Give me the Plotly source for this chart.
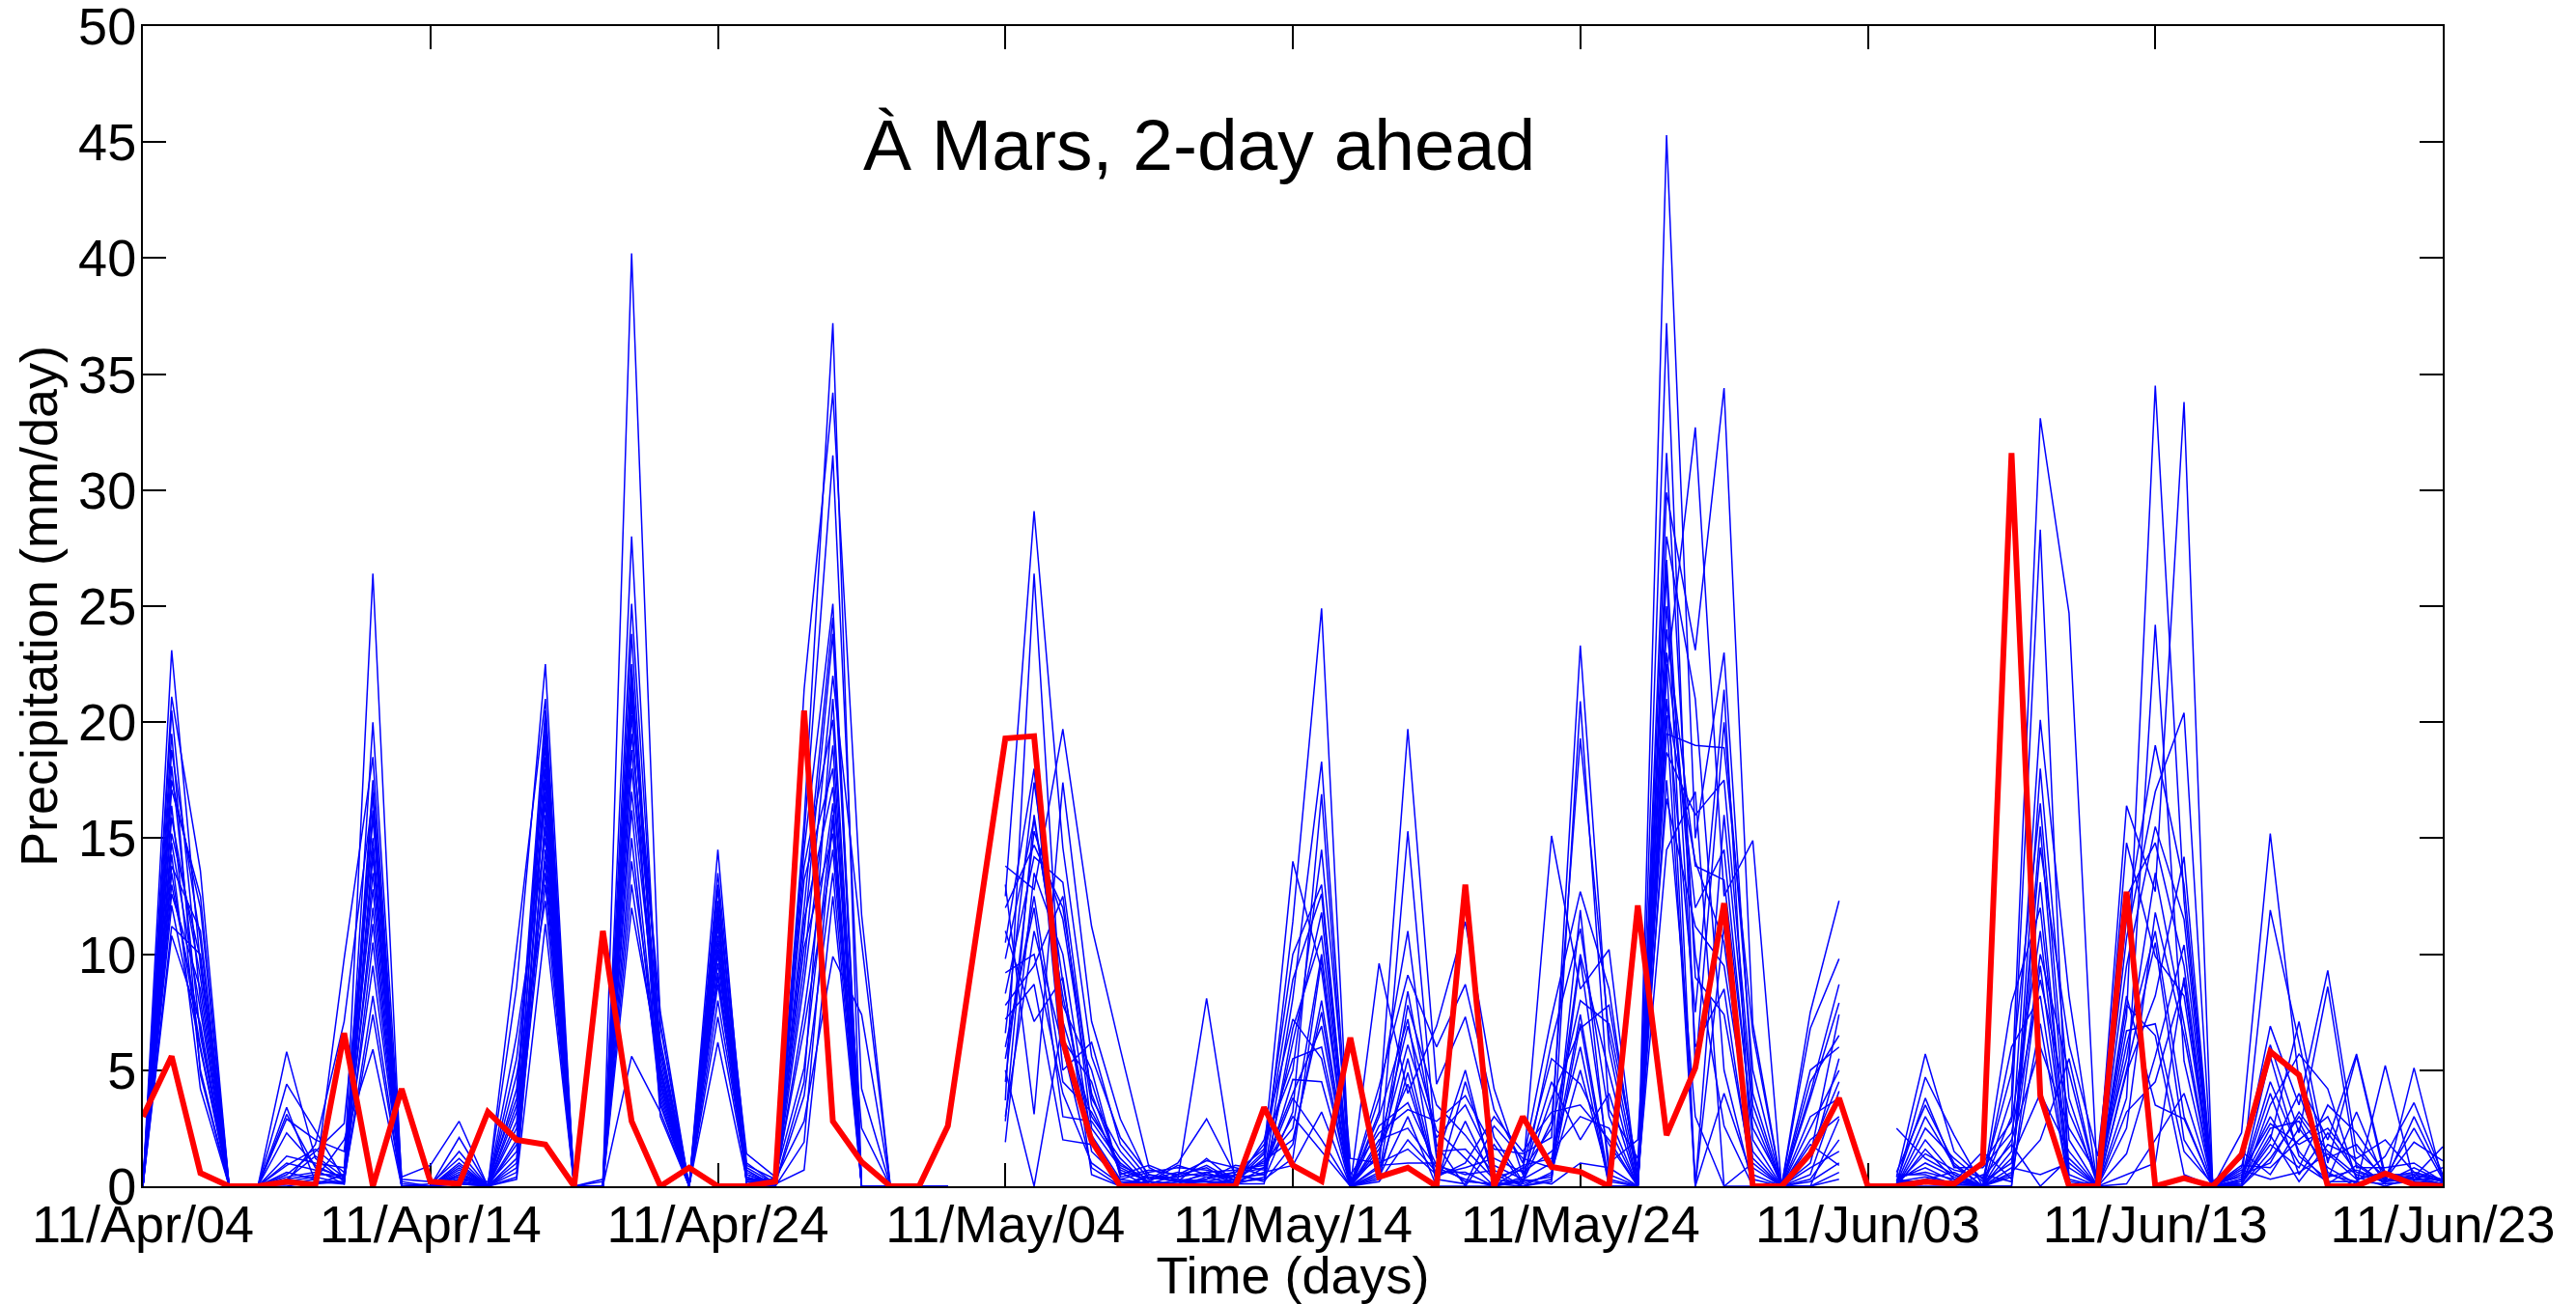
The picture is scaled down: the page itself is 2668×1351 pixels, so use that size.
import pandas as pd
import plotly.graph_objects as go

# ---------------- data ----------------
start_date = "2011-04-04"
n_days = 81
tick_labels_every_days = 10
y_ticks = [0, 5, 10, 15, 20, 25, 30, 35, 40, 45, 50]

# observed precipitation (mm/day), one value per day from 2011-04-04
observed = [3.0, 5.6, 0.57, 0, 0, 0.2, 0.05, 6.6, 0, 4.2,
            0.2, 0.1, 3.2, 2.0, 1.8, 0, 11.0, 2.8, 0, 0.8,
            0, 0, 0.2, 20.5, 2.8, 1.05, 0, 0, 2.6, 10.9,
            19.3, 19.4, 6.25, 1.95, 0, 0, 0, 0, 0, 3.4,
            0.9, 0.22, 6.4, 0.4, 0.8, 0, 13.0, 0, 3.0, 0.83,
            0.62, 0, 12.1, 2.2, 5.1, 12.2, 0, 0, 1.4, 3.8,
            0, 0, 0.2, 0.1, 1.0, 31.6, 3.9, 0, 0, 12.7,
            0, 0.35, 0, 1.36, 5.8, 4.8, 0, 0, 0.55, 0.07,
            0]

NO_DATA = [None] * 20

# ensemble forecasts: one row per day, 20 members per row
blue_apr04_apr13 = [
    [0, 0, 0, 0, 0, 0, 0, 0, 0, 0, 0, 0, 0, 0, 0, 0, 0, 0, 0, 0],
    [23.1, 21.1, 20.5, 18.8, 18.1, 17.1, 16.4, 15.9, 14.8, 14.3, 13.8, 13.5, 12.6, 12.1, 11.2, 10.8, 19.5, 17.5, 15.2, 13.0],
    [9.5, 13.6, 8.0, 10.6, 6.5, 12.5, 5.0, 9.0, 7.6, 4.2, 11.0, 6.0, 8.5, 5.9, 10.0, 7.0, 4.8, 12.0, 9.8, 6.8],
    [0, 0, 0, 0, 0, 0, 0, 0, 0, 0, 0, 0, 0, 0, 0, 0, 0, 0, 0, 0],
    [0, 0, 0, 0, 0, 0, 0, 0, 0, 0, 0, 0, 0, 0, 0, 0, 0, 0, 0, 0],
    [0.3, 5.8, 0.1, 4.4, 0.2, 3.4, 0.5, 3.1, 0.1, 2.9, 0.4, 1.3, 0.2, 0.9, 0.0, 2.3, 0.6, 0.3, 1.0, 0.1],
    [0.5, 1.2, 0.3, 2.4, 1.8, 0.2, 1.5, 0.8, 0.1, 2.0, 0.6, 1.0, 0.4, 1.6, 0.2, 0.9, 0.3, 1.3, 0.7, 0.1],
    [0.5, 0.2, 9.8, 0.3, 7.1, 0.1, 2.7, 0.4, 0.2, 1.5, 0.3, 0.8, 0.1, 0.6, 0.2, 0.3, 2.0, 0.4, 0.1, 0.5],
    [26.4, 20.0, 18.5, 17.5, 16.8, 15.9, 15.0, 14.2, 13.5, 12.8, 12.0, 11.3, 10.5, 9.5, 8.2, 7.4, 5.9, 17.0, 14.6, 16.2],
    [0, 0.4, 0, 0, 0.3, 0, 0, 0, 0.2, 0, 0, 0, 0, 0.1, 0, 0, 0, 0, 0, 0],
]
blue_apr14_apr23 = [
    [0, 0.9, 0, 0, 0.2, 0, 0, 0.1, 0, 0, 0, 0, 0, 0, 0, 0, 0, 0, 0, 0],
    [0.3, 2.8, 0.5, 2.1, 0.2, 1.5, 0.4, 1.2, 0.1, 0.8, 0.6, 0.3, 0.9, 0.2, 1.0, 0.5, 0.1, 0.7, 0.4, 0.2],
    [0, 0, 0.1, 0, 0, 0, 0, 0, 0, 0, 0, 0.2, 0, 0, 0, 0, 0, 0, 0, 0],
    [0.4, 10.3, 1.5, 3.2, 8.6, 2.5, 4.8, 0.8, 2.0, 5.5, 1.2, 3.8, 0.6, 2.8, 1.0, 4.2, 0.3, 6.5, 1.8, 3.5],
    [16.0, 21.0, 13.0, 20.0, 22.5, 18.5, 12.3, 17.5, 19.5, 16.5, 15.5, 20.5, 14.5, 14.0, 18.0, 19.0, 11.3, 15.0, 17.0, 13.5],
    [0, 0, 0, 0, 0, 0, 0, 0, 0, 0, 0, 0, 0, 0, 0, 0, 0, 0, 0, 0],
    [0, 0, 0, 0.3, 0, 0, 0, 0, 0, 0, 0, 0, 0.2, 0, 0, 0, 0, 0, 0, 0],
    [21.0, 40.2, 18.0, 25.1, 28.0, 13.0, 22.0, 16.2, 23.8, 20.3, 12.0, 19.5, 22.5, 5.6, 17.0, 21.5, 15.0, 20.8, 14.0, 18.8],
    [7.5, 6.9, 6.0, 5.5, 4.9, 4.5, 4.0, 3.8, 3.5, 3.0, 5.2, 6.3, 4.2, 3.2, 5.8, 4.7, 3.6, 7.0, 5.0, 4.4],
    [0, 0, 0, 0, 0, 0, 0, 0, 0, 0, 0, 0, 0, 0, 0, 0, 0, 0, 0, 0],
]
blue_apr24_may03 = [
    [10.8, 12.3, 14.5, 9.2, 11.8, 6.2, 13.5, 10.0, 12.8, 8.0, 11.2, 13.0, 9.6, 10.5, 7.3, 12.0, 8.7, 11.5, 9.0, 10.2],
    [0.5, 1.4, 0.2, 0.8, 0.1, 0.3, 1.0, 0.4, 0.2, 0.6, 0.1, 0.3, 0.9, 0.2, 0.5, 0.1, 0.7, 0.3, 0.2, 0.4],
    [0.1, 0.4, 0.2, 0.1, 0, 0.3, 0.1, 0, 0.2, 0.1, 0, 0.1, 0.3, 0, 0.1, 0.2, 0, 0.1, 0, 0.1],
    [13.8, 5.1, 21.4, 10.3, 15.7, 2.8, 12.0, 8.8, 15.1, 0.7, 13.2, 9.5, 6.8, 14.5, 3.9, 11.5, 10.9, 7.5, 1.9, 4.5],
    [20.1, 16.0, 34.2, 15.2, 37.2, 9.9, 24.5, 19.0, 31.5, 12.5, 18.0, 22.0, 14.5, 25.1, 13.5, 17.2, 23.8, 16.5, 15.8, 21.0],
    [0, 0, 11.7, 0, 0, 7.4, 0, 0, 4.2, 0, 0, 10.5, 0, 0, 0, 2.5, 0, 0, 0, 0],
    [0, 0, 0, 0, 0, 0, 0, 0, 0, 0, 0, 0, 0, 0, 0, 0, 0, 0, 0, 0],
    [0, 0, 0, 0, 0, 0, 0, 0, 0, 0, 0, 0, 0, 0, 0, 0, 0, 0, 0, 0],
    [0, 0, 0, 0, 0, 0, 0, 0, 0, 0, 0, 0, 0, 0, 0, 0, 0, 0, 0, 0],
    NO_DATA,
]
blue_may04_may13 = [
    [13.8, 13.0, 12.5, 8.3, 7.8, 6.6, 5.0, 3.7, 1.9, 10.5, 9.2, 4.5, 11.0, 6.0, 2.8, 7.2, 12.0, 3.0, 9.8, 5.5],
    [12.8, 3.1, 29.1, 14.2, 9.5, 17.4, 0, 26.4, 13.5, 18.0, 10.0, 15.3, 7.1, 12.0, 16.0, 8.7, 14.7, 11.0, 15.8, 12.5],
    [19.7, 17.4, 14.6, 13.1, 12.5, 8.8, 7.1, 6.3, 10.0, 5.0, 4.0, 11.5, 9.0, 3.0, 7.8, 2.0, 12.0, 6.0, 8.2, 4.5],
    [11.2, 7.1, 5.6, 3.8, 2.5, 1.5, 3.0, 4.5, 2.0, 6.2, 1.0, 3.5, 0.5, 2.8, 5.0, 1.8, 4.0, 0.8, 2.2, 3.2],
    [5.9, 2.9, 2.1, 1.5, 0.8, 0.3, 1.2, 0.5, 0.2, 1.8, 0.1, 0.6, 0, 1.0, 0.4, 0.2, 0.7, 0, 0.3, 0.9],
    [0.8, 0.3, 0.5, 0.1, 0.2, 0.6, 0, 0.9, 0.1, 0.3, 0.2, 0, 0.4, 0.1, 0.7, 0, 0.2, 0.5, 0.1, 0.3],
    [0.2, 1.0, 0.3, 0.5, 0.1, 0.8, 0.2, 0.4, 0, 0.6, 0.1, 0.3, 0.2, 0, 0.5, 0.1, 0.9, 0.2, 0, 0.4],
    [0.5, 2.9, 8.1, 1.1, 0.2, 0.7, 0.3, 0.9, 0.1, 0.4, 0.6, 0.2, 1.2, 0.3, 0.8, 0.1, 0.5, 0.2, 0.4, 0.6],
    [0.3, 0.5, 0.2, 0.8, 0.1, 0.4, 0.6, 0.2, 0.3, 0.1, 0.7, 0.5, 0.2, 0.9, 0.1, 0.3, 0.4, 0.2, 0.6, 0.1],
    [1.5, 0.8, 1.2, 0.5, 2.0, 0.3, 1.0, 0.6, 1.8, 0.4, 0.9, 0.2, 1.4, 0.7, 0.1, 1.1, 0.5, 0.3, 1.6, 0.8],
]
blue_may14_may23 = [
    [14.0, 11.4, 8.9, 8.1, 7.2, 3.2, 2.5, 0.9, 5.0, 6.2, 4.0, 1.8, 10.0, 3.8, 6.8, 2.0, 4.6, 1.2, 5.5, 3.0],
    [9.3, 24.9, 12.6, 18.3, 5.5, 16.9, 10.0, 3.2, 14.5, 11.8, 6.9, 8.0, 13.0, 2.0, 10.8, 7.5, 4.5, 9.8, 6.0, 1.5],
    [0, 0, 0, 0.5, 0, 0, 0, 0, 1.2, 0, 0, 0, 0, 0, 0.3, 0, 0, 0, 0, 0],
    [9.6, 4.3, 3.2, 2.3, 1.4, 0.8, 2.0, 0.5, 1.0, 3.8, 0.3, 1.8, 2.6, 0.6, 1.2, 0.2, 3.0, 0.9, 1.6, 0.4],
    [4.0, 9.1, 19.7, 3.3, 6.1, 15.3, 2.5, 7.8, 1.6, 11.0, 5.5, 6.9, 3.6, 4.9, 8.4, 2.0, 7.2, 1.0, 4.4, 3.0],
    [6.9, 6.0, 4.4, 2.8, 2.1, 1.5, 0.8, 3.5, 0.5, 1.2, 0.3, 2.4, 0.9, 0.2, 1.8, 0.6, 0, 1.0, 0.4, 0],
    [11.4, 8.7, 7.3, 3.9, 3.5, 1.6, 0.3, 2.2, 0.8, 5.0, 0.1, 1.2, 0.5, 2.8, 0, 0.6, 4.5, 0.2, 1.0, 0],
    [4.2, 3.3, 2.1, 1.6, 0.9, 0.3, 0, 0.5, 1.2, 0.1, 2.6, 0, 0.7, 0.2, 1.8, 0, 0.4, 0.1, 3.0, 0],
    [0.5, 1.0, 0.2, 1.4, 0.3, 0.1, 0.8, 0, 0.6, 0.2, 1.2, 0.4, 0, 0.9, 0.1, 0.3, 0.7, 0, 1.5, 0.2],
    [15.1, 7.3, 3.8, 2.1, 1.0, 0.5, 5.5, 0.2, 1.5, 2.8, 0.8, 4.5, 0.3, 1.2, 6.2, 0.1, 2.5, 0.6, 3.2, 0.4],
]
blue_may24_jun02 = [
    [8.5, 12.7, 6.8, 23.3, 10.0, 20.9, 4.4, 11.9, 3.0, 19.3, 7.4, 2.0, 9.8, 6.0, 11.1, 1.0, 8.0, 5.0, 3.5, 7.0],
    [10.2, 8.5, 7.8, 5.9, 4.9, 3.3, 1.8, 0.5, 2.5, 6.5, 0.2, 4.0, 1.0, 0, 3.0, 0.8, 7.0, 0.3, 2.0, 0],
    [0, 0, 0.5, 0, 0, 1.2, 0, 0, 0, 0.3, 0, 0, 2.0, 0, 0, 0, 0.8, 0, 0, 0],
    [22.0, 29.9, 19.5, 45.3, 24.0, 16.7, 31.6, 21.0, 26.5, 14.5, 37.2, 20.3, 23.0, 28.0, 17.5, 25.0, 18.7, 22.5, 27.0, 20.8],
    [32.7, 23.1, 19.0, 15.0, 13.8, 11.2, 9.0, 7.5, 0, 17.0, 5.0, 0, 12.0, 21.0, 3.0, 10.0, 16.0, 0, 6.0, 14.0],
    [12.5, 34.4, 18.9, 23.0, 13.2, 9.5, 7.4, 21.4, 16.0, 0, 20.0, 11.2, 14.5, 5.0, 0, 2.6, 17.5, 4.0, 8.5, 10.5],
    [14.9, 7.0, 6.6, 4.0, 2.5, 1.5, 0.5, 0, 3.0, 0, 5.0, 0.8, 2.0, 0, 1.0, 0, 3.5, 0.3, 0, 1.2],
    [0, 0, 0, 0, 0.2, 0, 0, 0, 0, 0, 0, 0, 0, 0, 0, 0, 0, 0, 0, 0],
    [7.5, 6.8, 4.0, 3.8, 1.3, 2.5, 0.5, 3.0, 0, 1.8, 5.0, 0.8, 2.0, 0, 1.0, 0.3, 4.5, 0, 1.5, 0.2],
    [12.3, 9.8, 8.7, 7.9, 7.4, 5.0, 4.1, 3.8, 2.9, 0.9, 6.0, 1.5, 3.0, 0.3, 5.5, 2.0, 6.5, 0.6, 4.5, 1.0],
]
blue_jun03_jun12 = [
    NO_DATA,
    [2.5, 0.4, 0.1, 0.2, 0.6, 0, 0.3, 0.1, 0, 0.5, 0.2, 0, 0.1, 0.3, 0, 0.2, 0.4, 0, 0.1, 0.2],
    [1.2, 5.7, 4.7, 3.8, 3.5, 1.6, 0.8, 0.3, 2.5, 0.5, 1.0, 0.2, 3.0, 0.1, 2.0, 0.4, 0.6, 0, 1.4, 0.2],
    [0.5, 1.5, 2.2, 0.8, 1.0, 0.3, 0.2, 0.6, 1.2, 0.1, 0.4, 0, 0.9, 0.2, 0.5, 0.1, 0.3, 0, 0.7, 0.2],
    [0, 0.3, 0, 0.8, 0, 0, 1.5, 0, 0.2, 0, 0, 0.5, 0, 0, 0, 1.0, 0, 0, 0.4, 0],
    [7.9, 4.9, 3.9, 2.3, 1.5, 0.8, 0.3, 3.0, 1.0, 0.5, 2.0, 0.2, 6.0, 1.2, 0, 2.8, 0.6, 0, 1.8, 0.4],
    [12.0, 16.5, 33.1, 8.9, 20.1, 0.5, 14.6, 28.3, 10.0, 13.1, 6.0, 15.5, 8.2, 4.0, 18.0, 11.0, 2.0, 9.5, 0, 7.0],
    [0.5, 2.0, 24.7, 3.2, 8.2, 1.0, 6.1, 0, 4.9, 0.2, 2.5, 0.8, 0, 1.5, 3.8, 0, 5.5, 0.3, 1.2, 0],
    [0, 0, 0, 0.3, 0, 0, 1.3, 0, 0, 0, 0.5, 0, 0, 0, 0, 0.2, 0, 0, 0, 0],
    [6.1, 10.7, 4.9, 16.4, 7.3, 1.4, 12.5, 14.8, 3.8, 8.2, 5.5, 0.1, 9.5, 6.7, 2.5, 11.5, 7.8, 0.5, 5.0, 3.2],
]
blue_jun13_jun23 = [
    [11.0, 17.0, 8.2, 12.7, 34.5, 5.6, 14.8, 9.9, 24.2, 3.5, 13.5, 2.0, 15.5, 7.0, 11.8, 19.0, 6.5, 1.0, 10.5, 4.5],
    [3.0, 20.4, 14.2, 33.8, 12.3, 10.4, 9.5, 8.2, 5.4, 2.9, 7.0, 4.0, 11.5, 1.5, 6.5, 13.0, 0.5, 9.0, 2.0, 8.8],
    [0, 0, 0, 0, 0, 0.2, 0, 0, 0, 0, 0, 0, 0, 0.1, 0, 0, 0, 0, 0, 0],
    [0.5, 2.3, 0.2, 0.8, 0.1, 1.2, 0.3, 0, 0.6, 0.1, 1.5, 0.2, 0, 0.4, 0.9, 0.1, 0, 0.3, 0.7, 0.2],
    [1.0, 15.2, 11.9, 6.9, 2.0, 6.1, 5.6, 3.5, 2.7, 1.8, 0.5, 4.0, 1.2, 3.0, 0.8, 2.2, 1.5, 4.5, 0.3, 2.5],
    [3.2, 4.5, 6.2, 3.5, 7.1, 2.3, 1.3, 5.7, 1.8, 0.8, 2.5, 0.5, 3.0, 1.0, 2.0, 0.2, 4.0, 1.5, 0.6, 2.8],
    [1.5, 2.0, 0.5, 9.3, 1.0, 8.6, 0.3, 4.2, 2.5, 3.5, 0.8, 2.3, 1.2, 0.2, 3.0, 1.8, 0.6, 0.1, 1.4, 0.4],
    [0.5, 5.7, 0.2, 1.5, 5.6, 0.8, 3.2, 0.3, 1.0, 2.3, 0.1, 0.6, 1.8, 0.2, 0.4, 1.2, 0, 0.9, 0.3, 0.7],
    [0.2, 0.5, 0.1, 0.4, 0.3, 0.8, 0.2, 0.6, 0.1, 0.5, 5.2, 0.3, 0.2, 1.3, 0, 2.0, 0.4, 0.1, 0.6, 0.2],
    [0.3, 0.5, 0.2, 0.6, 0.4, 1.0, 3.0, 0.1, 5.1, 0.3, 0.2, 1.9, 0.8, 3.6, 0.4, 0.6, 2.5, 0.2, 0.3, 0.5],
    [0.1, 0.2, 0.1, 0.3, 1.7, 0.2, 0.4, 0.1, 0.2, 0.3, 0.1, 1.1, 0.2, 0.5, 0.1, 0.2, 0.3, 0.1, 0.8, 0.2],
]

title_text = "À Mars, 2-day ahead"
x_title = "Time (days)"
y_title = "Precipitation (mm/day)"

# ---------------- assemble ----------------
dates = pd.date_range(start_date, periods=n_days, freq="D")
ensemble_rows = (blue_apr04_apr13 + blue_apr14_apr23 + blue_apr24_may03 + blue_may04_may13
                 + blue_may14_may23 + blue_may24_jun02 + blue_jun03_jun12 + blue_jun13_jun23)
members = [list(m) for m in zip(*ensemble_rows)]

FONT = "Liberation Sans, Arial, Helvetica, sans-serif"
TICK_SIZE = 54

fig = go.Figure()
for i, m in enumerate(members):
    fig.add_trace(go.Scatter(
        x=dates, y=m, mode="lines",
        line=dict(color="#0000FF", width=1.5),
        name=f"member {i + 1}", showlegend=False, hoverinfo="skip",
    ))
fig.add_trace(go.Scatter(
    x=dates, y=observed, mode="lines",
    line=dict(color="#FF0000", width=6),
    name="observed", showlegend=False,
))

# the page body adds an 8 px offset, so the figure is 8 px smaller than the window
fig.update_layout(
    width=2660, height=1343,
    paper_bgcolor="white", plot_bgcolor="white",
    margin=dict(l=140, r=138, t=19, b=122, pad=0),
    font=dict(family=FONT, size=TICK_SIZE, color="black"),
    showlegend=False,
    annotations=[dict(
        text=title_text, xref="paper", yref="paper",
        x=0.4593, y=0.8977, xanchor="center", yanchor="middle",
        showarrow=False, font=dict(family=FONT, size=75, color="black"),
    )],
)
fig.update_xaxes(
    type="date",
    range=[dates[0], dates[-1]],
    tick0=dates[0], dtick=tick_labels_every_days * 86400000,
    tickformat="%y/%b/%d",
    ticks="inside", ticklen=24, tickwidth=1.5, tickcolor="black",
    showline=True, linecolor="black", linewidth=2, mirror="ticks",
    showgrid=False, zeroline=False, layer="below traces",
    automargin=False, ticklabelstandoff=-9, ticklabeloverflow="allow",
    tickfont=dict(family=FONT, size=TICK_SIZE, color="black"),
    title=dict(text=x_title, font=dict(family=FONT, size=TICK_SIZE, color="black"), standoff=9),
)
fig.update_yaxes(
    range=[0, 50], tickmode="array", tickvals=y_ticks,
    ticks="inside", ticklen=24, tickwidth=1.5, tickcolor="black",
    showline=True, linecolor="black", linewidth=2, mirror="ticks",
    showgrid=False, zeroline=False, layer="below traces",
    automargin=False, ticklabelstandoff=-6, ticklabeloverflow="allow",
    tickfont=dict(family=FONT, size=TICK_SIZE, color="black"),
    title=dict(text=y_title, font=dict(family=FONT, size=TICK_SIZE, color="black"), standoff=4),
)

fig.write_html("out.html")
